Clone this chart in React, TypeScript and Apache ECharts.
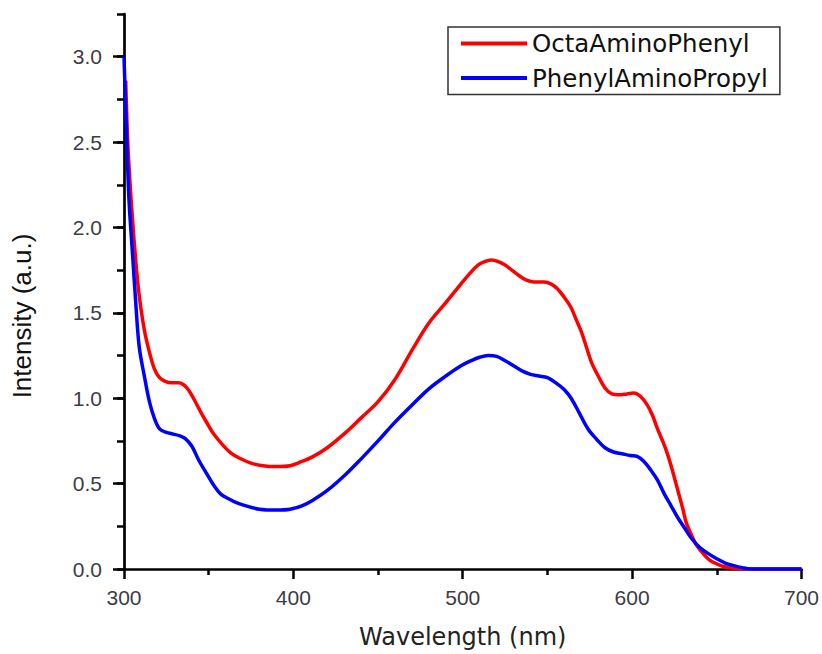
import React, { useEffect, useRef } from "react";
import * as echarts from "echarts";

const seriesNames = ["OctaAminoPhenyl", "PhenylAminoPropyl"];

const octaAminoPhenyl: [number, number][] = [
  [301, 2.86], [302, 2.55], [303, 2.35], [305, 2.05], [307, 1.8], [309, 1.6],
  [312, 1.4], [315, 1.27], [318, 1.17], [321, 1.12], [324, 1.1], [328, 1.09],
  [332, 1.09], [335, 1.08], [338, 1.05], [341, 1.0], [345, 0.925], [349, 0.855],
  [353, 0.79], [358, 0.73], [363, 0.68], [368, 0.65], [375, 0.62], [382, 0.605],
  [390, 0.6], [398, 0.605], [405, 0.63], [411, 0.655], [420, 0.71], [431, 0.8],
  [440, 0.885], [450, 0.98], [460, 1.11], [470, 1.28], [480, 1.44], [490, 1.56],
  [499, 1.67], [505, 1.74], [509, 1.78], [513, 1.8], [517, 1.81], [521, 1.8],
  [525, 1.78], [529, 1.75], [533, 1.72], [537, 1.695], [542, 1.68], [548, 1.68],
  [552, 1.67], [556, 1.64], [560, 1.59], [564, 1.53], [567, 1.46], [570, 1.39],
  [573, 1.3], [576, 1.21], [580, 1.13], [584, 1.06], [588, 1.025], [592, 1.02],
  [597, 1.025], [601, 1.03], [605, 1.01], [609, 0.96], [612, 0.9], [615, 0.82],
  [618, 0.75], [621, 0.67], [624, 0.57], [627, 0.46], [630, 0.35], [632, 0.27],
  [635, 0.2], [638, 0.14], [642, 0.09], [646, 0.05], [650, 0.03], [654, 0.015],
  [660, 0.005], [665, 0.0], [700, 0.0],
];

const phenylAminoPropyl: [number, number][] = [
  [300, 3.0], [301, 2.7], [302, 2.4], [303, 2.15], [305, 1.85], [307, 1.55],
  [309, 1.3], [312, 1.13], [315, 0.98], [318, 0.88], [321, 0.82], [325, 0.8],
  [329, 0.79], [333, 0.78], [336, 0.765], [340, 0.72], [344, 0.64], [349, 0.555],
  [353, 0.49], [357, 0.44], [362, 0.41], [366, 0.39], [372, 0.37], [380, 0.35],
  [390, 0.345], [398, 0.35], [405, 0.37], [411, 0.4], [420, 0.46], [431, 0.555],
  [440, 0.645], [450, 0.75], [460, 0.86], [470, 0.96], [480, 1.055], [490, 1.13],
  [499, 1.19], [505, 1.22], [510, 1.24], [515, 1.25], [520, 1.245], [525, 1.22],
  [530, 1.19], [535, 1.16], [540, 1.14], [545, 1.13], [550, 1.12], [555, 1.09],
  [560, 1.05], [564, 1.0], [569, 0.91], [574, 0.82], [579, 0.76], [584, 0.71],
  [589, 0.685], [594, 0.675], [599, 0.665], [603, 0.66], [607, 0.63], [611, 0.58],
  [615, 0.52], [619, 0.44], [623, 0.37], [627, 0.3], [631, 0.24], [635, 0.18],
  [640, 0.125], [645, 0.09], [650, 0.06], [655, 0.035], [660, 0.02], [665, 0.008],
  [670, 0.0], [700, 0.0],
];

const yMajorTicks = [0, 0.5, 1.0, 1.5, 2.0, 2.5, 3.0];
const xTitle = "Wavelength (nm)";
const yTitle = "Intensity (a.u.)";

export default function App() {
  const ref = useRef<HTMLDivElement>(null);
  useEffect(() => {
    document.body.style.margin = "0";
    const chart = echarts.init(ref.current!, undefined, { renderer: "svg" });
    const labelStyle = {
      color: "#3c3c46",
      fontFamily: "Liberation Sans, Arial, sans-serif",
      fontSize: 21,
    };
    const lineColor = "#000";
    chart.setOption({
      animation: false,
      backgroundColor: "#fff",
      grid: { left: 124, right: 17, top: 14, bottom: 83, containLabel: false },
      legend: {
        orient: "vertical",
        left: 448,
        top: 27,
        padding: [4, 12, 4, 13],
        itemGap: 9.5,
        itemWidth: 66,
        itemHeight: 4,
        icon: "rect",
        borderColor: "#333",
        borderWidth: 1.5,
        textStyle: {
          color: "#111",
          fontFamily: "DejaVu Sans, sans-serif",
          fontSize: 24.5,
        },
        data: seriesNames,
      },
      graphic: [
        {
          type: "text",
          x: 22,
          y: 316,
          rotation: Math.PI / 2,
          style: {
            text: yTitle,
            fill: "#111",
            font: "26px 'Liberation Sans', Arial, sans-serif",
            textAlign: "center",
            textVerticalAlign: "middle",
          },
        },
      ],
      xAxis: {
        type: "value",
        min: 300,
        max: 700,
        interval: 100,
        name: xTitle,
        nameLocation: "middle",
        nameGap: 56,
        nameTextStyle: {
          color: "#222",
          fontFamily: "DejaVu Sans, sans-serif",
          fontSize: 24,
        },
        axisLine: { show: true, onZero: false, lineStyle: { color: lineColor, width: 2.7 } },
        axisTick: { show: true, inside: false, length: 10, lineStyle: { color: lineColor, width: 2.5 } },
        minorTick: { show: true, splitNumber: 2, length: 6, lineStyle: { color: lineColor, width: 2.5 } },
        axisLabel: { ...labelStyle, margin: 18 },
        splitLine: { show: false },
      },
      yAxis: [
        {
          type: "value",
          min: 0,
          max: 3.25,
          interval: 0.5,
          axisLine: { show: true, onZero: false, lineStyle: { color: lineColor, width: 2.7 } },
          axisTick: {
            show: true,
            length: 11,
            customValues: yMajorTicks,
            lineStyle: { color: lineColor, width: 2.5 },
          },
          axisLabel: {
            ...labelStyle,
            margin: 22,
            customValues: yMajorTicks,
            formatter: (v: number) => v.toFixed(1),
          },
          splitLine: { show: false },
        },
        {
          type: "value",
          min: 0,
          max: 3.25,
          interval: 0.25,
          position: "left",
          axisLine: { show: false },
          axisTick: { show: true, length: 7, lineStyle: { color: lineColor, width: 2.5 } },
          axisLabel: { show: false },
          splitLine: { show: false },
        },
      ],
      series: [
        {
          name: seriesNames[0],
          type: "line",
          data: octaAminoPhenyl,
          showSymbol: false,
          symbol: "none",
          smooth: 0.35,
          lineStyle: { color: "#ff0000", width: 3.5 },
          itemStyle: { color: "#ff0000" },
        },
        {
          name: seriesNames[1],
          type: "line",
          data: phenylAminoPropyl,
          showSymbol: false,
          symbol: "none",
          smooth: 0.35,
          lineStyle: { color: "#0000ff", width: 3.5 },
          itemStyle: { color: "#0000ff" },
        },
      ],
    });
    return () => chart.dispose();
  }, []);
  return (
    <div
      ref={ref}
      style={{ position: "absolute", left: 0, top: 0, width: 822, height: 654 }}
    />
  );
}
